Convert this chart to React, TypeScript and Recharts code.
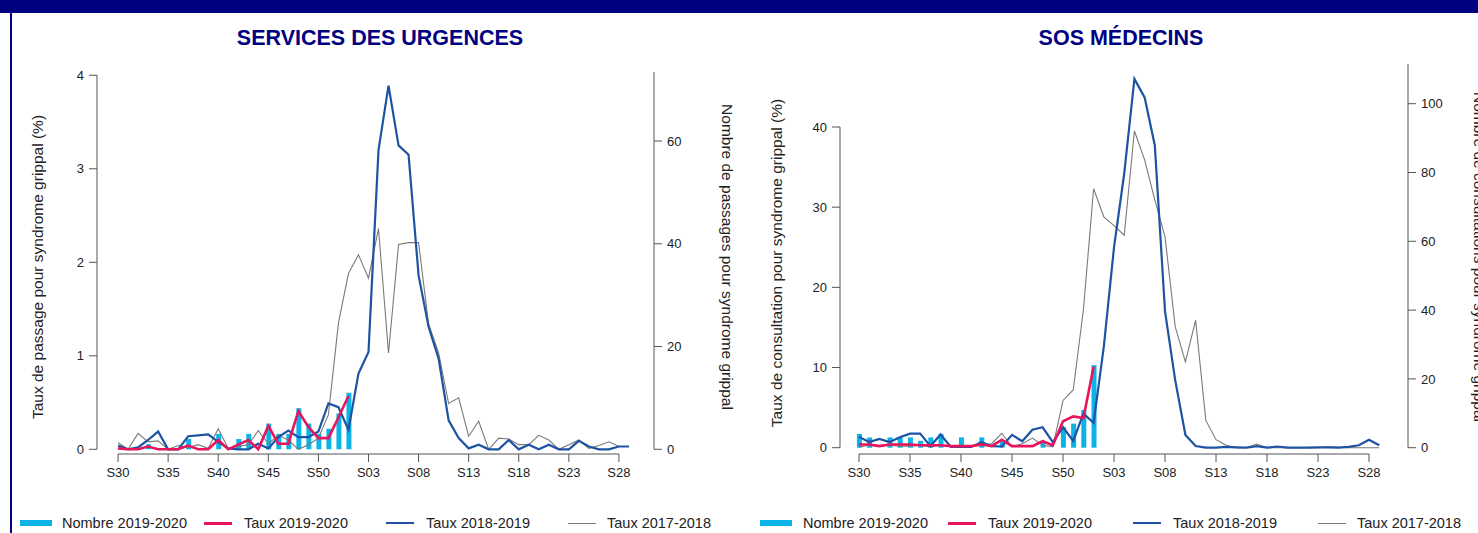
import React from "react";
import { ComposedChart, Bar, Line, XAxis, YAxis, ReferenceLine } from "recharts";

// ---------- data ----------
const WEEKS = [
  "S30","S31","S32","S33","S34","S35","S36","S37","S38","S39","S40","S41","S42","S43","S44","S45","S46","S47","S48","S49","S50","S51","S52",
  "S01","S02","S03","S04","S05","S06","S07","S08","S09","S10","S11","S12","S13","S14","S15","S16","S17","S18","S19","S20","S21","S22","S23","S24","S25","S26","S27","S28","S29",
];
const TICK_INDEX = [0, 5, 10, 15, 20, 25, 30, 35, 40, 45, 50];

// Services des urgences
const URG_NB_2019 = [0, 0, 0, 1, 0, 0, 0, 2, 0, 0, 3, 0, 2, 3, 0, 5, 3, 3, 8, 5, 3, 4, 7, 11];
const URG_TAUX_2019 = [0.01, 0, 0, 0.03, 0, 0, 0, 0.04, 0, 0, 0.1, 0, 0.05, 0.1, 0, 0.25, 0.06, 0.06, 0.41, 0.24, 0.12, 0.12, 0.34, 0.57];
const URG_TAUX_2018 = [
  0.04, 0, 0.02, 0.1, 0.19, 0, 0, 0.14, 0.15, 0.16, 0.08, 0.01, 0, 0, 0.06, 0.01, 0.13, 0.2, 0.13, 0.13,
  0.19, 0.49, 0.45, 0.21, 0.81, 1.04, 3.2, 3.89, 3.25, 3.15, 1.86, 1.31, 0.97, 0.31, 0.12, 0.01, 0.05, 0, 0, 0.1,
  0, 0.05, 0, 0.05, 0, 0, 0.09, 0.03, 0, 0, 0.03, 0.03,
];
const URG_TAUX_2017 = [
  0.07, 0, 0.17, 0.08, 0.09, 0, 0.04, 0.02, 0.05, 0.01, 0.22, 0.01, 0.03, 0.05, 0.2, 0.06, 0.15, 0.1, 0, 0.05,
  0.12, 0.37, 1.35, 1.88, 2.08, 1.83, 2.36, 1.03, 2.19, 2.21, 2.21, 1.34, 1.03, 0.49, 0.55, 0.14, 0.3, 0, 0.12, 0.11,
  0.05, 0.05, 0.15, 0.1, 0, 0.05, 0.1, 0.01, 0.04, 0.08, 0.03, 0.03,
];

// SOS Médecins
const SOS_NB_2019 = [4, 3, 0, 3, 3, 3, 2, 3, 4, 0, 3, 0, 3, 0, 2, 0, 0, 0, 2, 0, 6, 7, 11, 24];
const SOS_TAUX_2019 = [0.4, 0.4, 0.2, 0.4, 0.4, 0.4, 0.3, 0.3, 0.3, 0.2, 0.2, 0.2, 0.4, 0.2, 1.0, 0.2, 0.2, 0.2, 0.8, 0.3, 3.3, 3.9, 3.7, 10.1];
const SOS_TAUX_2018 = [
  1.35, 0.7, 1.1, 0.7, 1.3, 1.75, 1.75, 0.2, 1.65, 0.1, 0.1, 0.1, 0.7, 0.2, 0.15, 1.6, 0.8, 2.25, 2.55, 0.7,
  2.55, 0.85, 4.25, 3.1, 12.6, 25, 34.2, 46, 43.7, 37.7, 17, 8.4, 1.6, 0.2, 0, 0, 0.1, 0.05, 0, 0.2,
  0, 0.15, 0, 0, 0, 0.05, 0.05, 0, 0.1, 0.3, 1.0, 0.3,
];
const SOS_TAUX_2017 = [
  0.1, 0.3, 0.2, 0.3, 0.2, 0.2, 0.3, 0.1, 0.3, 0.2, 0.1, 0.2, 0.3, 0.5, 1.8, 0.1, 0.5, 1.2, 0.3, 0.1,
  5.9, 7.2, 17.2, 32.3, 28.8, 27.7, 26.5, 39.5, 35.9, 30.9, 26.3, 15.1, 10.7, 15.9, 3.4, 1.0, 0.3, 0, 0, 0.45,
  0, 0, 0, 0, 0, 0, 0.1, 0.05, 0, 0, 0, 0,
];

const URG_LEFT_TICKS = [0, 1, 2, 3, 4];
const URG_RIGHT_TICKS = [0, 20, 40, 60];
const SOS_LEFT_TICKS = [0, 10, 20, 30, 40];
const SOS_RIGHT_TICKS = [0, 20, 40, 60, 80, 100];

const LEGEND_LABELS = ["Nombre 2019-2020", "Taux 2019-2020", "Taux 2018-2019", "Taux 2017-2018"];

// ---------- styles ----------
const FONT = "'Liberation Sans', Arial, Helvetica, sans-serif";
const NAVY = "#000080";
const C_BAR = "#0BB3E6";
const C_RED = "#E8145C";
const C_BLUE = "#1E53A3";
const C_GRAY = "#7A7A7A";
const AXIS = "#555555";
const TEXT = "#222222";

function buildRows(nb: number[], t19: number[], t18: number[], t17: number[]) {
  return WEEKS.map((w, i) => ({ i, w, nb: nb[i], t19: t19[i], t18: t18[i], t17: t17[i] }));
}

type PanelProps = {
  left: number;
  width: number;
  rows: any[];
  xDomain: [number, number];
  lDomain: [number, number];
  rDomain: [number, number];
  lTicks: number[];
  rTicks: number[];
  marginLeft: number;
  marginRight: number;
  marginTop: number;
};

function Panel(p: PanelProps) {
  const H = 500;
  const tickStyle = { fontSize: 13, fill: TEXT, fontFamily: FONT };
  return (
    <div style={{ position: "absolute", left: p.left, top: 0 }}>
      <ComposedChart
        width={p.width}
        height={H}
        data={p.rows}
        margin={{ top: p.marginTop, left: p.marginLeft, right: p.marginRight, bottom: 16 }}
      >
        <XAxis
          type="number"
          dataKey="i"
          domain={p.xDomain}
          ticks={TICK_INDEX}
          tickFormatter={(v: number) => WEEKS[v]}
          axisLine={false}
          tickLine={{ stroke: AXIS }}
          tickSize={8}
          tickMargin={6}
          tick={tickStyle}
          height={30}
          interval={0}
        />
        <YAxis
          yAxisId="l"
          orientation="left"
          domain={p.lDomain}
          ticks={p.lTicks}
          axisLine={false}
          tickLine={{ stroke: AXIS }}
          tickSize={8}
          tickMargin={5}
          tick={tickStyle}
          width={40}
          interval={0}
        />
        <YAxis
          yAxisId="r"
          orientation="right"
          domain={p.rDomain}
          ticks={p.rTicks}
          axisLine={false}
          tickLine={{ stroke: AXIS }}
          tickSize={8}
          tickMargin={5}
          tick={tickStyle}
          width={40}
          interval={0}
        />
        <ReferenceLine
          yAxisId="l"
          ifOverflow="visible"
          stroke={AXIS}
          strokeWidth={1}
          segment={[
            { x: p.xDomain[0], y: 0 },
            { x: p.xDomain[0], y: p.lTicks[p.lTicks.length - 1] },
          ]}
        />
        <ReferenceLine
          yAxisId="r"
          ifOverflow="visible"
          stroke={AXIS}
          strokeWidth={1}
          segment={[
            { x: p.xDomain[1], y: 0 },
            { x: p.xDomain[1], y: p.rDomain[1] },
          ]}
        />
        <ReferenceLine
          yAxisId="l"
          ifOverflow="visible"
          stroke={AXIS}
          strokeWidth={1}
          segment={[
            { x: TICK_INDEX[0], y: p.lDomain[0] },
            { x: TICK_INDEX[TICK_INDEX.length - 1], y: p.lDomain[0] },
          ]}
        />
        <Bar yAxisId="r" dataKey="nb" fill={C_BAR} barSize={5} isAnimationActive={false} />
        <Line yAxisId="l" type="linear" dataKey="t17" stroke={C_GRAY} strokeWidth={1.1} dot={false} isAnimationActive={false} />
        <Line yAxisId="l" type="linear" dataKey="t18" stroke={C_BLUE} strokeWidth={2.2} dot={false} isAnimationActive={false} />
        <Line yAxisId="l" type="linear" dataKey="t19" stroke={C_RED} strokeWidth={2.6} dot={false} isAnimationActive={false} />
      </ComposedChart>
    </div>
  );
}

function RotText({ x, y, angle, children }: { x: number; y: number; angle: number; children: React.ReactNode }) {
  return (
    <div
      style={{
        position: "absolute",
        left: x,
        top: y,
        transform: `translate(-50%, -50%) rotate(${angle}deg)`,
        whiteSpace: "nowrap",
        fontSize: 15.5,
        color: TEXT,
        fontFamily: FONT,
        lineHeight: "18px",
      }}
    >
      {children}
    </div>
  );
}

function LegendRow({ xs }: { xs: { sw: number; tx: number }[] }) {
  const swatches = [
    { color: C_BAR, h: 6, w: 32 },
    { color: C_RED, h: 3, w: 28 },
    { color: C_BLUE, h: 2, w: 28 },
    { color: C_GRAY, h: 1, w: 28 },
  ];
  return (
    <>
      {LEGEND_LABELS.map((lab, k) => (
        <React.Fragment key={lab}>
          <div
            style={{
              position: "absolute",
              left: xs[k].sw,
              top: 523 - swatches[k].h / 2,
              width: swatches[k].w,
              height: swatches[k].h,
              background: swatches[k].color,
            }}
          />
          <div
            style={{
              position: "absolute",
              left: xs[k].tx,
              top: 514,
              fontSize: 14.5,
              lineHeight: "18px",
              color: TEXT,
              fontFamily: FONT,
              whiteSpace: "nowrap",
            }}
          >
            {lab}
          </div>
        </React.Fragment>
      ))}
    </>
  );
}

export default function App() {
  const urgRows = buildRows(URG_NB_2019, URG_TAUX_2019, URG_TAUX_2018, URG_TAUX_2017);
  const sosRows = buildRows(SOS_NB_2019, SOS_TAUX_2019, SOS_TAUX_2018, SOS_TAUX_2017);
  const titleStyle: React.CSSProperties = {
    position: "absolute",
    top: 38,
    transform: "translate(-50%, -50%)",
    fontFamily: FONT,
    fontWeight: "bold",
    fontSize: 21.5,
    color: NAVY,
    whiteSpace: "nowrap",
  };
  return (
    <div
      style={{
        position: "absolute",
        left: 0,
        top: 0,
        width: 1478,
        height: 533,
        background: "#ffffff",
        overflow: "hidden",
        fontFamily: FONT,
      }}
    >
      <div style={{ position: "absolute", left: 0, top: 0, width: 1478, height: 13, background: NAVY }} />
      <div style={{ position: "absolute", left: 10, top: 0, width: 2, height: 533, background: NAVY }} />

      <div style={{ ...titleStyle, left: 380 }}>SERVICES DES URGENCES</div>
      <div style={{ ...titleStyle, left: 1121 }}>SOS MÉDECINS</div>

      <Panel
        left={0}
        width={740}
        rows={urgRows}
        xDomain={[-2.1, 53.5]}
        lDomain={[-0.05, 4.035]}
        rDomain={[-0.915, 73.43]}
        lTicks={URG_LEFT_TICKS}
        rTicks={URG_RIGHT_TICKS}
        marginLeft={57}
        marginRight={46}
        marginTop={72}
      />
      <Panel
        left={740}
        width={738}
        rows={sosRows}
        xDomain={[-1.863, 53.82]}
        lDomain={[-0.786, 47.86]}
        rDomain={[-1.83, 111.54]}
        lTicks={SOS_LEFT_TICKS}
        rTicks={SOS_RIGHT_TICKS}
        marginLeft={60}
        marginRight={30}
        marginTop={64}
      />

      <RotText x={38} y={267} angle={-90}>Taux de passage pour syndrome grippal (%)</RotText>
      <RotText x={727} y={257} angle={90}>Nombre de passages pour syndrome grippal</RotText>
      <RotText x={777} y={263} angle={-90}>Taux de consultation pour syndrome grippal (%)</RotText>
      <RotText x={1479} y={257} angle={90}>Nombre de consultations pour syndrome grippal</RotText>

      <LegendRow
        xs={[
          { sw: 20, tx: 62 },
          { sw: 204, tx: 244 },
          { sw: 386, tx: 426 },
          { sw: 568, tx: 607 },
        ]}
      />
      <LegendRow
        xs={[
          { sw: 760, tx: 803 },
          { sw: 948, tx: 988 },
          { sw: 1133, tx: 1173 },
          { sw: 1318, tx: 1357 },
        ]}
      />
    </div>
  );
}
